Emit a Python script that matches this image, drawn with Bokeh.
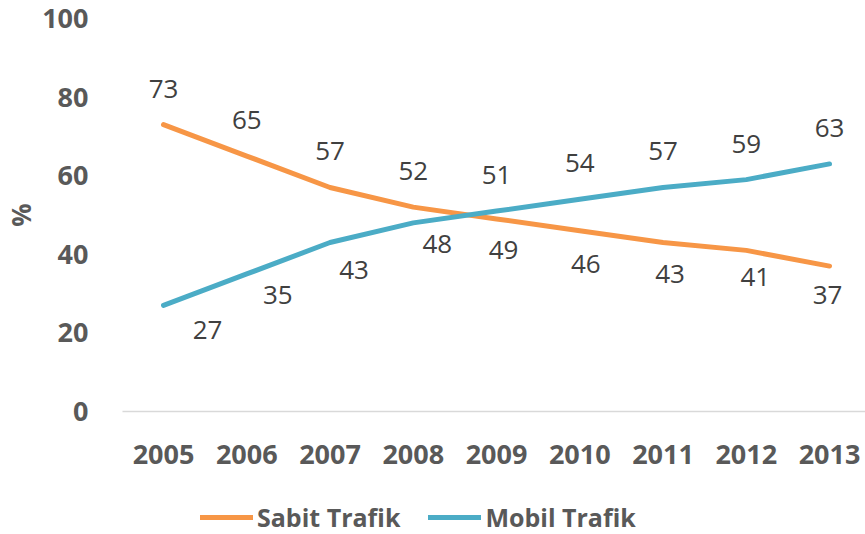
from bokeh.plotting import figure
from bokeh.layouts import column
from bokeh.models import (ColumnDataSource, Range1d, FixedTicker, Legend, LegendItem)
from bokeh.embed import file_html
from bokeh.resources import INLINE
from bokeh.core.properties import value

# ---- data ----
years = ["2005", "2006", "2007", "2008", "2009", "2010", "2011", "2012", "2013"]
sabit = [73, 65, 57, 52, 49, 46, 43, 41, 37]
mobil = [27, 35, 43, 48, 51, 54, 57, 59, 63]
y_ticks = [0, 20, 40, 60, 80, 100]
series_names = ["Sabit Trafik", "Mobil Trafik"]

# ---- style / label placement (pixels) ----
ORANGE = "#F79646"
BLUE = "#4BACC6"
AXIS_TXT = "#595959"
LABEL_TXT = "#404040"
FONT = "Open Sans"

sabit_dx = [0, 0, 0, 0, 7, 6, 7, 9, -2]
sabit_dy = [-36, -36, -36, -36, 31, 33, 31, 27, 29]
mobil_dx = [44, 31, 24, 24, 0, 0, 0, 0, 0]
mobil_dy = [25, 21, 27, 21, -36, -36, -36, -36, -36]

idx = list(range(len(years)))

p = figure(width=865, height=480, output_backend="svg", toolbar_location=None,
           x_range=Range1d(-0.4925, 8.432), y_range=Range1d(0, 100),
           min_border_left=122, min_border_right=0, min_border_top=18,
           min_border_bottom=69)
p.outline_line_color = None
p.xgrid.visible = False
p.ygrid.visible = False
p.background_fill_color = "white"
p.border_fill_color = "white"

src_s = ColumnDataSource(dict(x=idx, y=sabit, t=[str(v) for v in sabit], dx=sabit_dx, dy=sabit_dy))
src_m = ColumnDataSource(dict(x=idx, y=mobil, t=[str(v) for v in mobil], dx=mobil_dx, dy=mobil_dy))

line_style = dict(line_width=5, line_cap="round", line_join="round")
p.line("x", "y", source=src_s, line_color=ORANGE, **line_style)
p.line("x", "y", source=src_m, line_color=BLUE, **line_style)

for src in (src_s, src_m):
    p.text("x", "y", text="t", source=src, x_offset="dx", y_offset="dy",
           text_align="center", text_baseline="middle",
           text_font=value(FONT), text_font_size="26px", text_color=LABEL_TXT)

# x axis
xa = p.xaxis[0]
xa.ticker = FixedTicker(ticks=idx)
xa.major_label_overrides = {i: y for i, y in zip(idx, years)}
xa.axis_line_color = "#D9D9D9"
xa.axis_line_width = 1.5
xa.major_tick_line_color = None
xa.minor_tick_line_color = None
xa.major_label_standoff = 27
xa.major_label_text_font = FONT
xa.major_label_text_font_style = "bold"
xa.major_label_text_font_size = "27px"
xa.major_label_text_color = AXIS_TXT

# y axis
ya = p.yaxis[0]
ya.ticker = FixedTicker(ticks=y_ticks)
ya.axis_line_color = None
ya.major_tick_line_color = None
ya.minor_tick_line_color = None
ya.major_label_standoff = 28
ya.major_label_text_font = FONT
ya.major_label_text_font_style = "bold"
ya.major_label_text_font_size = "27px"
ya.major_label_text_color = AXIS_TXT
ya.axis_label = "%"
ya.axis_label_standoff = 0
ya.axis_label_text_font = FONT
ya.axis_label_text_font_style = "bold"
ya.axis_label_text_font_size = "26px"
ya.axis_label_text_color = AXIS_TXT

# ---- legend strip below the chart ----
pl = figure(width=865, height=54, output_backend="svg", toolbar_location=None,
            x_range=Range1d(0, 1), y_range=Range1d(0, 1),
            x_axis_location=None, y_axis_location=None,
            min_border_left=0, min_border_right=0, min_border_top=0, min_border_bottom=0)
pl.outline_line_color = None
pl.xgrid.visible = False
pl.ygrid.visible = False
nan = float("nan")
ls = pl.line(x=[nan], y=[nan], line_color=ORANGE, **line_style)
lm = pl.line(x=[nan], y=[nan], line_color=BLUE, **line_style)

legend = Legend(items=[LegendItem(label=series_names[0], renderers=[ls]),
                       LegendItem(label=series_names[1], renderers=[lm])],
                location=(78, 0), orientation="horizontal",
                glyph_width=53, glyph_height=20, label_height=20,
                label_standoff=4, spacing=28, padding=0, margin=0,
                border_line_color=None, background_fill_alpha=0,
                label_text_font=FONT, label_text_font_style="bold",
                label_text_font_size="25px", label_text_color=AXIS_TXT)
pl.add_layout(legend)

layout = column(p, pl, spacing=0)
open("out.html", "w").write(file_html(layout, INLINE))
